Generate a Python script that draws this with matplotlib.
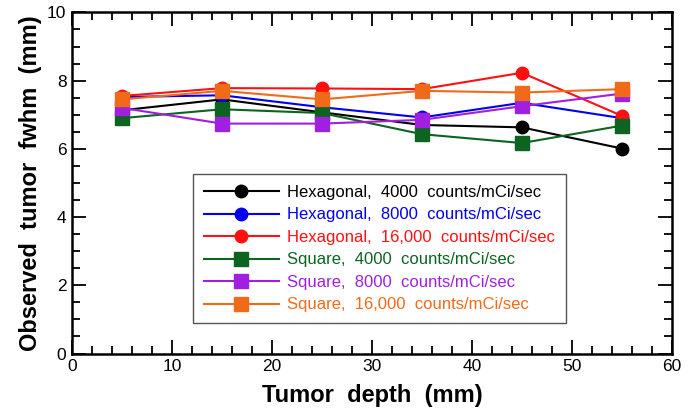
import matplotlib
matplotlib.use("Agg")
import matplotlib.pyplot as plt
from matplotlib.ticker import MultipleLocator

plt.rcParams['font.family'] = ['Liberation Sans', 'DejaVu Sans']

depth = [5, 15, 25, 35, 45, 55]
hex_4000 = [7.13, 7.45, 7.07, 6.70, 6.63, 6.01]
hex_8000 = [7.52, 7.57, 7.22, 6.92, 7.35, 6.90]
hex_16000 = [7.55, 7.78, 7.77, 7.75, 8.23, 6.97]
sq_4000 = [6.90, 7.16, 7.05, 6.43, 6.17, 6.68]
sq_8000 = [7.20, 6.74, 6.74, 6.85, 7.25, 7.62]
sq_16000 = [7.45, 7.70, 7.45, 7.70, 7.65, 7.75]

series = [
    ("Hexagonal,  4000  counts/mCi/sec", hex_4000, "#000000", "o"),
    ("Hexagonal,  8000  counts/mCi/sec", hex_8000, "#0000ee", "o"),
    ("Hexagonal,  16,000  counts/mCi/sec", hex_16000, "#ff1010", "o"),
    ("Square,  4000  counts/mCi/sec", sq_4000, "#0c6420", "s"),
    ("Square,  8000  counts/mCi/sec", sq_8000, "#a020e0", "s"),
    ("Square,  16,000  counts/mCi/sec", sq_16000, "#f06a1a", "s"),
]

fig = plt.figure(figsize=(6.89, 4.13), dpi=100)
ax = fig.add_axes([0.1045, 0.144, 0.8705, 0.826])

for label, vals, color, marker in series:
    ax.plot(depth, vals, color=color, marker=marker, markersize=9 if marker == "o" else 9.5,
            linewidth=1.5, label=label)

ax.set_xlim(0, 60)
ax.set_ylim(0, 10)
ax.xaxis.set_major_locator(MultipleLocator(10))
ax.xaxis.set_minor_locator(MultipleLocator(2))
ax.yaxis.set_major_locator(MultipleLocator(2))
ax.yaxis.set_minor_locator(MultipleLocator(0.5))
ax.tick_params(which='both', direction='in', top=True, right=True, width=1.3, labelsize=12.5)
ax.tick_params(which='major', length=10, pad=4)
ax.tick_params(which='minor', length=6)
for s in ax.spines.values():
    s.set_linewidth(1.8)

ax.set_xlabel("Tumor  depth  (mm)", fontsize=17, fontweight='bold', labelpad=7)
ax.set_ylabel("Observed  tumor  fwhm  (mm)", fontsize=17, fontweight='bold', labelpad=4)

leg = ax.legend(loc='upper left', bbox_to_anchor=(0.2017, 0.526), borderaxespad=0,
                fontsize=12, handlelength=4.5, handletextpad=0.5, labelspacing=0.45,
                borderpad=0.65, fancybox=False, framealpha=1, edgecolor='#555555')
leg.get_frame().set_linewidth(1.0)
for text, (_, _, color, _) in zip(leg.get_texts(), series):
    text.set_color(color)

fig.savefig("out.png", dpi=100)
